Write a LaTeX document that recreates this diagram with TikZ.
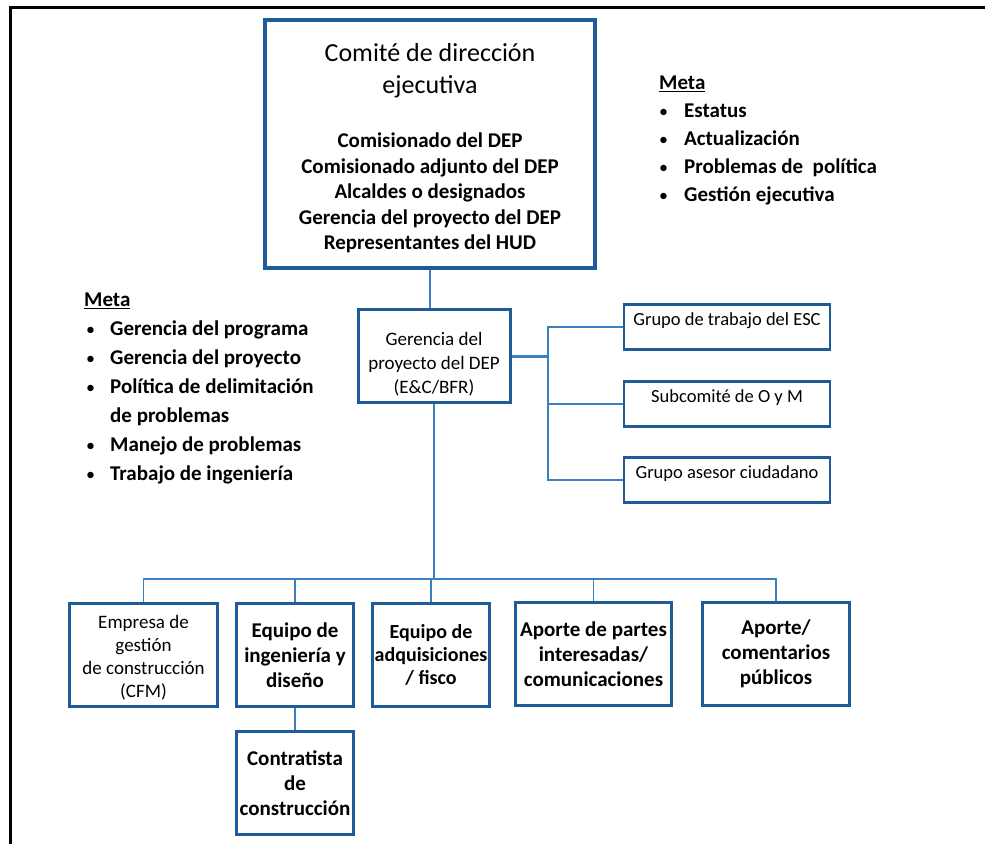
\documentclass[tikz,border=0pt]{standalone}
\usepackage{fontspec}
\setmainfont{Carlito}
\usepackage{xcolor}
\usepackage{tikz}
\definecolor{boxblue}{RGB}{31, 91, 153}
\definecolor{linkblue}{RGB}{60, 128, 196}
\newcommand{\metadot}{{\mdseries\fontsize{18}{18}\selectfont\textbullet}}

\begin{document}
\begin{tikzpicture}[
    x=1pt, y=-1pt,
    box/.style={draw=boxblue, line width=3pt, align=center, inner sep=0pt},
    sidebox/.style={box, line width=2.5pt, minimum width=206pt, minimum height=45pt,
        inner ysep=4pt, text height=17pt, text depth=20pt, font=\fontsize{18.5}{22}\selectfont},
    teambox/.style={box, minimum height=103pt, font=\bfseries\fontsize{21}{25}\selectfont},
    metalist/.style={anchor=north west, inner sep=0pt, align=left},
    link/.style={draw=linkblue, line width=1.5pt}
]
    \useasboundingbox (0,0) rectangle (985,844);

    % Frame
    \draw[line width=3pt] (10,844) -- (10,7) -- (985,7);

    % Executive committee
    \node[box, line width=4pt, minimum width=330pt, minimum height=248pt] (exec) at (430,144) {};
    \node[font=\fontsize{26}{32}\selectfont, align=center] (execTitle) at (430,71) {Comité de dirección\\ejecutiva};
    \node[font=\bfseries\fontsize{21}{25.5}\selectfont, align=center] (execMembers) at (430,193)
        {Comisionado del DEP\\Comisionado adjunto del DEP\\Alcaldes o designados\\Gerencia del proyecto del DEP\\Representantes del HUD};

    % Goals
    \node[metalist, font=\bfseries\fontsize{21}{28}\selectfont] (metaTop) at (659,70)
        {\begin{tabular}{@{}l@{\hspace{16pt}}l@{}}
            \multicolumn{2}{@{}l@{}}{\underline{Meta}}\\
            \metadot & Estatus\\
            \metadot & Actualización\\
            \metadot & Problemas de\ \ política\\
            \metadot & Gestión ejecutiva
        \end{tabular}};
    \node[metalist, font=\bfseries\fontsize{21}{29}\selectfont] (metaLeft) at (84,286)
        {\begin{tabular}{@{}l@{\hspace{15pt}}l@{}}
            \multicolumn{2}{@{}l@{}}{\underline{Meta}}\\
            \hspace{2pt}\metadot & Gerencia del programa\\
            \hspace{2pt}\metadot & Gerencia del proyecto\\
            \hspace{2pt}\metadot & Política de delimitación\\
                        & de problemas\\
            \hspace{2pt}\metadot & Manejo de problemas\\
            \hspace{2pt}\metadot & Trabajo de ingeniería
        \end{tabular}};

    % Project management
    \node[box, minimum width=152pt, minimum height=93pt, text height=79pt, text depth=5pt,
        font=\fontsize{19}{24}\selectfont] (gerencia) at (434,356)
        {Gerencia del\\proyecto del DEP\\(E\&C/BFR)};

    % Side groups
    \node[sidebox] (esc) at (727,327) {Grupo de trabajo del ESC};
    \node[sidebox] (oym) at (727,404) {Subcomité de O y M};
    \node[sidebox] (asesor) at (727,480) {Grupo asesor ciudadano};

    % Teams
    \node[teambox, minimum width=148pt, text height=90pt, text depth=5pt,
        font=\fontsize{19}{23}\selectfont] (cfm) at (143.5,655)
        {Empresa de\\gestión\\de construcción\\(CFM)};
    \node[teambox, minimum width=117pt] (ing) at (295,655) {Equipo de\\ingeniería y\\diseño};
    \node[teambox, minimum width=117pt, font=\bfseries\fontsize{20}{23}\selectfont] (adq) at (431,655)
        {Equipo de\\adquisiciones\\/ fisco};
    \node[teambox, minimum width=156pt] (partes) at (593.5,654) {Aporte de partes\\interesadas/\\comunicaciones};
    \node[teambox, minimum width=147pt] (publico) at (776,654) {Aporte/\\comentarios\\públicos};
    \node[teambox, minimum width=117pt] (contratista) at (295,783) {Contratista\\de\\construcción};

    % Links
    \coordinate (branch) at (548,356);
    \coordinate (bus) at (434,579);
    \draw[link] (exec.south) -- (exec.south |- gerencia.north);
    \draw[link, line width=3pt] (gerencia.east) -- (branch);
    \draw[link] (esc.west) -| (branch);
    \draw[link] (oym.west) -| (branch);
    \draw[link] (asesor.west) -| (branch);
    \draw[link] (gerencia.south) -- (bus);
    \draw[link] (cfm.north) |- (bus);
    \draw[link] (ing.north) |- (bus);
    \draw[link] (adq.north) |- (bus);
    \draw[link] (partes.north) |- (bus);
    \draw[link] (publico.north) |- (bus);
    \draw[link] (ing.south) -- (contratista.north);
\end{tikzpicture}
\end{document}
